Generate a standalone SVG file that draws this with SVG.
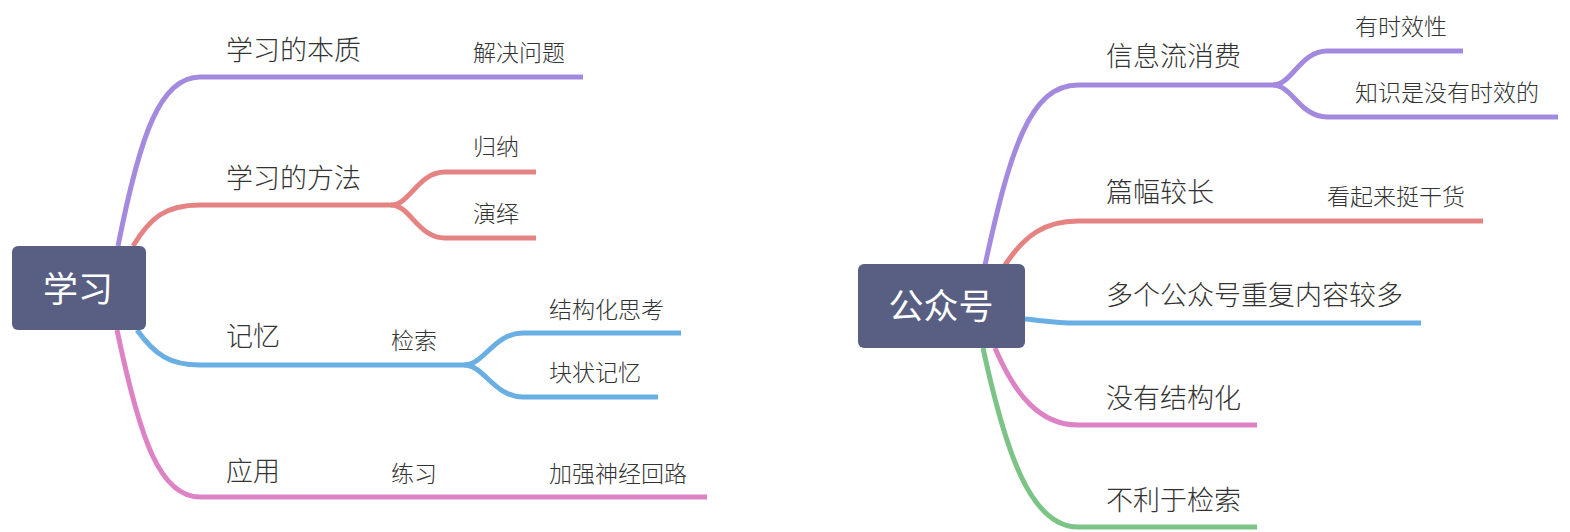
<svg xmlns="http://www.w3.org/2000/svg" width="1570" height="532" viewBox="0 0 1570 532">
<style>
.t1{font-family:"Noto Sans CJK SC","Noto Sans",sans-serif;font-size:27px;font-weight:300;fill:#333;}
.t2{font-family:"Noto Sans CJK SC","Noto Sans",sans-serif;font-size:23px;font-weight:300;fill:#333;}
.rt{font-family:"Noto Sans CJK SC","Noto Sans",sans-serif;font-size:35px;font-weight:400;fill:#fff;text-anchor:middle;}
.root{fill:#585f82;}
.c{fill:none;stroke-width:5;stroke-linecap:butt;}
.pu{stroke:#a38ade;}
.re{stroke:#e58383;}
.bl{stroke:#69afe3;}
.pi{stroke:#de82c6;}
.gr{stroke:#7cc386;}
</style>
<rect width="1570" height="532" fill="#fff"/>
<g id="connectors">
<path class="c pu" d="M118,246 C140,135 160,77 200,77 H383"/>
<path class="c pu" d="M383,77 H583"/>
<path class="c re" d="M133,246 C150,218 165,205 200,205 H391"/>
<path class="c re" d="M391,205 C410,205 418,172 445,172 H536"/>
<path class="c re" d="M391,205 C410,205 418,238 445,238 H536"/>
<path class="c bl" d="M137,330 C155,355 170,365 200,365 H297"/>
<path class="c bl" d="M297,365 H464"/>
<path class="c bl" d="M464,365 C484,365 494,333 523,333 H681"/>
<path class="c bl" d="M464,365 C484,365 494,397 523,397 H658"/>
<path class="c pi" d="M117,330 C140,440 160,497 200,497 H297"/>
<path class="c pi" d="M297,497 H455"/>
<path class="c pi" d="M455,497 H707"/>
<path class="c pu" d="M985,265 C1010,150 1030,85 1078,85 H1273"/>
<path class="c pu" d="M1273,85 C1292,85 1300,51 1327,51 H1463"/>
<path class="c pu" d="M1273,85 C1292,85 1300,117 1327,117 H1558"/>
<path class="c re" d="M1005,265 C1025,235 1045,221 1078,221 H1232"/>
<path class="c re" d="M1232,221 H1483"/>
<path class="c bl" d="M1025,319 C1045,321 1055,323 1078,323 H1421"/>
<path class="c pi" d="M995,348 C1015,395 1040,425 1078,425 H1257"/>
<path class="c gr" d="M983,348 C1005,450 1030,527 1078,527 H1257"/>
</g>
<g id="root-xuexi">
<rect class="root" x="12" y="246" width="134" height="84" rx="6"/>
<text class="rt" x="78" y="302">学习</text>
</g>
<g id="n-benzhi"><text class="t1" x="226" y="60">学习的本质</text></g>
<g id="n-jiejue"><text class="t2" x="473" y="61">解决问题</text></g>
<g id="n-fangfa"><text class="t1" x="226" y="188">学习的方法</text></g>
<g id="n-guina"><text class="t2" x="473" y="155">归纳</text></g>
<g id="n-yanyi"><text class="t2" x="473" y="222">演绎</text></g>
<g id="n-jiyi"><text class="t1" x="226" y="346">记忆</text></g>
<g id="n-jiansuo"><text class="t2" x="391" y="349">检索</text></g>
<g id="n-jiegou"><text class="t2" x="549" y="318">结构化思考</text></g>
<g id="n-kuai"><text class="t2" x="549" y="381">块状记忆</text></g>
<g id="n-yingyong"><text class="t1" x="226" y="481">应用</text></g>
<g id="n-lianxi"><text class="t2" x="391" y="482">练习</text></g>
<g id="n-jiaqiang"><text class="t2" x="549" y="482">加强神经回路</text></g>
<g id="root-gzh">
<rect class="root" x="858" y="264" width="167" height="84" rx="6"/>
<text class="rt" x="941" y="319">公众号</text>
</g>
<g id="n-xinxi"><text class="t1" x="1106" y="66">信息流消费</text></g>
<g id="n-youshi"><text class="t2" x="1355" y="35">有时效性</text></g>
<g id="n-zhishi"><text class="t2" x="1355" y="101">知识是没有时效的</text></g>
<g id="n-pianfu"><text class="t1" x="1106" y="202">篇幅较长</text></g>
<g id="n-kanqi"><text class="t2" x="1327" y="205">看起来挺干货</text></g>
<g id="n-duoge"><text class="t1" x="1106" y="305">多个公众号重复内容较多</text></g>
<g id="n-meiyou"><text class="t1" x="1106" y="408">没有结构化</text></g>
<g id="n-buli"><text class="t1" x="1106" y="510">不利于检索</text></g>
</svg>
